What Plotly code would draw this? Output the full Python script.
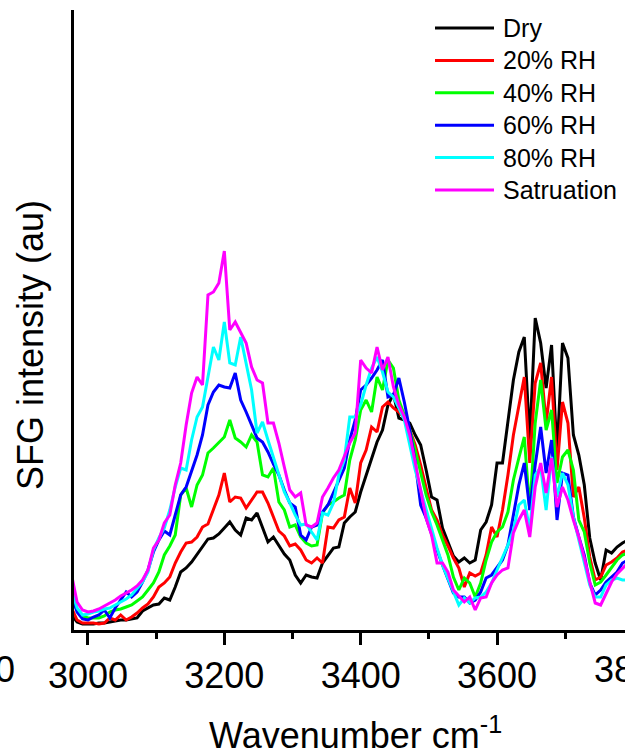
import plotly.graph_objects as go

# Wavenumber grid (cm-1), 8 cm-1 step
wavenumber = list(range(2976, 3793, 8))

series_names = ["Dry", "20% RH", "40% RH", "60% RH", "80% RH", "Satruation"]
series_colors = ["#000000", "#ff0000", "#00ff00", "#0000ff", "#00ffff", "#ff00ff"]

dry = [
    0.15, 0.08, 0.06, 0.06, 0.06, 0.07, 0.07, 0.08,
    0.09, 0.10, 0.10, 0.11, 0.12, 0.19, 0.22, 0.25,
    0.26, 0.32, 0.30, 0.43, 0.58, 0.62, 0.68, 0.76,
    0.83, 0.91, 0.92, 0.96, 1.02, 1.08, 1.00, 0.95,
    1.12, 1.10, 1.17, 1.03, 0.88, 0.93, 0.85, 0.76,
    0.70, 0.55, 0.47, 0.55, 0.53, 0.52, 0.67, 0.75,
    0.82, 0.83, 1.07, 1.13, 1.18, 1.38, 1.55, 1.72,
    1.88, 2.00, 2.25, 2.36, 2.12, 2.10, 2.07, 1.95,
    1.85, 1.60, 1.33, 1.30, 1.02, 0.88, 0.74, 0.68,
    0.72, 0.67, 0.70, 1.00, 1.08, 1.25, 1.67, 1.67,
    2.08, 2.50, 2.78, 2.93, 1.90, 3.12, 2.87, 2.42,
    2.85, 1.77, 2.87, 2.72, 1.95, 1.75, 1.45, 0.92,
    0.67, 0.50, 0.80, 0.77, 0.83, 0.87, 0.90,
]
rh20 = [
    0.22, 0.10, 0.07, 0.07, 0.07, 0.06, 0.07, 0.12,
    0.10, 0.15, 0.10, 0.13, 0.17, 0.22, 0.26, 0.33,
    0.43, 0.47, 0.53, 0.67, 0.78, 0.87, 0.88, 0.93,
    1.03, 1.06, 1.20, 1.35, 1.57, 1.28, 1.33, 1.32,
    1.22, 1.30, 1.38, 1.38, 1.27, 1.13, 0.99, 0.94,
    0.84, 0.86, 0.80, 0.70, 0.67, 0.72, 0.67, 1.03,
    1.02, 1.10, 1.13, 1.42, 1.27, 1.67, 1.80, 2.03,
    1.98, 2.23, 2.28, 2.22, 2.18, 2.12, 2.00, 1.85,
    1.65, 1.42, 1.20, 1.10, 0.95, 0.84, 0.72, 0.62,
    0.43, 0.57, 0.54, 0.57, 0.75, 1.03, 0.93, 1.20,
    1.55, 1.95, 2.25, 2.53, 1.67, 2.47, 2.67, 2.07,
    2.53, 1.60, 2.28, 2.07, 1.33, 1.43, 1.12, 0.73,
    0.50, 0.53, 0.65, 0.68, 0.72, 0.78, 0.80,
]
rh40 = [
    0.30, 0.20, 0.14, 0.12, 0.12, 0.12, 0.14, 0.18,
    0.20, 0.21, 0.23, 0.25, 0.29, 0.33, 0.40, 0.47,
    0.58, 0.75, 0.84, 0.95, 1.35, 1.42, 1.23, 1.45,
    1.55, 1.77, 1.82, 1.88, 1.93, 2.10, 1.92, 1.88,
    1.83, 1.95, 1.88, 1.55, 1.53, 1.62, 1.28, 1.20,
    1.03, 1.05, 0.93, 0.87, 0.84, 0.85, 1.17, 1.25,
    1.28, 1.32, 1.35, 1.70, 1.90, 2.20, 2.30, 2.18,
    2.53, 2.40, 2.70, 2.62, 2.30, 2.15, 2.00, 1.80,
    1.58, 1.35, 1.18, 1.05, 0.90, 0.75, 0.53, 0.40,
    0.52, 0.47, 0.33, 0.47, 0.70, 0.88, 0.98, 1.03,
    1.18, 1.50, 1.72, 1.93, 1.20, 2.07, 2.50, 2.00,
    2.20, 1.47, 1.73, 1.80, 1.60, 1.10, 0.98, 0.67,
    0.45, 0.48, 0.55, 0.62, 0.70, 0.75, 0.77,
]
rh60 = [
    0.35, 0.18, 0.11, 0.10, 0.13, 0.15, 0.20, 0.12,
    0.22, 0.30, 0.38, 0.33, 0.38, 0.48, 0.60, 0.78,
    0.90, 0.99, 0.95, 1.15, 1.35, 1.43, 1.60, 1.75,
    1.95, 2.25, 2.38, 2.45, 2.43, 2.42, 2.57, 2.30,
    2.18, 2.05, 1.92, 1.88, 1.78, 1.66, 1.55, 1.40,
    1.27, 1.23, 0.95, 0.90, 1.03, 1.05, 1.18, 1.25,
    1.37, 1.50, 1.62, 1.90, 2.10, 2.40, 2.45, 2.52,
    2.60, 2.70, 2.33, 2.35, 2.52, 2.28, 2.00, 1.68,
    1.25, 1.12, 0.95, 0.80, 0.65, 0.50, 0.37, 0.33,
    0.33, 0.27, 0.30, 0.38, 0.52, 0.55, 0.62, 0.70,
    0.85, 1.15, 1.45, 1.67, 1.20, 1.65, 2.03, 1.57,
    1.90, 1.10, 1.57, 1.55, 1.13, 0.93, 0.75, 0.47,
    0.35, 0.40, 0.48, 0.53, 0.58, 0.67, 0.70,
]
rh80 = [
    0.40, 0.22, 0.15, 0.16, 0.18, 0.19, 0.21, 0.22,
    0.25, 0.28, 0.31, 0.35, 0.42, 0.48, 0.58, 0.80,
    0.92, 1.02, 1.20, 1.43, 1.62, 1.60, 1.90, 2.13,
    2.23, 2.53, 2.83, 2.70, 3.08, 2.67, 2.65, 2.93,
    2.65, 2.40, 1.97, 2.08, 1.90, 1.73, 1.55, 1.38,
    1.27, 1.15, 1.05, 1.06, 0.98, 0.90, 1.17, 1.15,
    1.27, 1.55, 1.70, 2.13, 2.13, 2.25, 2.45, 2.62,
    2.73, 2.58, 2.38, 2.33, 2.22, 2.10, 1.85, 1.60,
    1.40, 1.20, 1.00, 0.82, 0.65, 0.52, 0.38, 0.25,
    0.32, 0.27, 0.32, 0.33, 0.38, 0.47, 0.60, 0.72,
    0.85, 1.00, 1.25, 1.30, 1.00, 1.55, 1.63, 1.20,
    1.73, 1.33, 1.57, 1.45, 1.13, 0.90, 0.68, 0.45,
    0.33, 0.33, 0.45, 0.50, 0.52, 0.50, 0.50,
]
saturation = [
    0.55, 0.28, 0.20, 0.18, 0.19, 0.21, 0.24, 0.27,
    0.30, 0.34, 0.37, 0.40, 0.44, 0.50, 0.60, 0.82,
    0.90, 1.07, 1.15, 1.45, 1.67, 2.05, 2.37, 2.53,
    2.45, 3.35, 3.38, 3.47, 3.79, 3.00, 3.08, 2.97,
    2.87, 2.63, 2.50, 2.47, 2.07, 2.07, 1.87, 1.63,
    1.40, 1.33, 1.37, 1.05, 1.03, 1.07, 1.33, 1.42,
    1.52, 1.60, 1.73, 1.87, 1.97, 2.70, 2.62, 2.57,
    2.83, 2.60, 2.73, 2.43, 2.25, 2.13, 1.95, 1.67,
    1.40, 1.12, 0.95, 0.67, 0.67, 0.58, 0.40, 0.34,
    0.28, 0.33, 0.20, 0.32, 0.33, 0.47, 0.55, 0.60,
    0.62, 0.97, 1.10, 1.20, 0.93, 1.43, 1.67, 1.37,
    1.72, 1.23, 1.43, 1.30, 1.10, 0.93, 0.72, 0.48,
    0.27, 0.25, 0.36, 0.48, 0.56, 0.62, 0.67,
]
series_values = [dry, rh20, rh40, rh60, rh80, saturation]

labeled_ticks = [3000, 3200, 3400, 3600]
minor_ticks = [3100, 3300, 3500, 3700]

FONT = "Liberation Sans, Arial, sans-serif"
W, H = 625, 754
L, R, T, B = 74, 0, 10, 124
PW, PH = W - L - R, H - T - B


def px_x(px):
    return (px - L) / PW


def px_y(py):
    return (H - B - py) / PH


fig = go.Figure()
for name, color, vals in zip(series_names, series_colors, series_values):
    fig.add_trace(go.Scatter(
        x=wavenumber, y=vals, mode="lines", name=name,
        line=dict(color=color, width=3), showlegend=False,
    ))

# Legend drawn as line samples plus labels
shapes = []
annotations = []
for i, (name, color) in enumerate(zip(series_names, series_colors)):
    yy = px_y(28 + 32.4 * i)
    shapes.append(dict(type="line", xref="paper", yref="paper",
                       x0=px_x(435), x1=px_x(494), y0=yy, y1=yy,
                       line=dict(color=color, width=3)))
    annotations.append(dict(text=name, xref="paper", yref="paper",
                            x=px_x(501), y=yy, xanchor="left", yanchor="middle",
                            showarrow=False, font=dict(size=25, color="black", family=FONT)))

# Axis titles
annotations.append(dict(text="SFG intensity (au)", xref="paper", yref="paper",
                        x=px_x(30), y=px_y(345), textangle=-90,
                        xanchor="center", yanchor="middle", showarrow=False,
                        font=dict(size=36, color="black", family=FONT)))
annotations.append(dict(text="Wavenumber cm<sup>-1</sup>", xref="paper", yref="paper",
                        x=px_x(355), y=px_y(733), xanchor="center", yanchor="middle",
                        showarrow=False, font=dict(size=36, color="black", family=FONT)))
# Tick labels cut by the figure edges
annotations.append(dict(text="0", xref="paper", yref="paper",
                        x=px_x(17), y=px_y(669), xanchor="right", yanchor="middle",
                        showarrow=False, font=dict(size=36, color="black", family=FONT)))
annotations.append(dict(text="3800", xref="paper", yref="paper",
                        x=px_x(634), y=px_y(669), xanchor="center", yanchor="middle",
                        showarrow=False, font=dict(size=36, color="black", family=FONT)))

fig.update_layout(
    width=W, height=H,
    margin=dict(l=L, r=R, t=T, b=B, pad=0),
    paper_bgcolor="white", plot_bgcolor="white",
    font=dict(family=FONT, color="black"),
    shapes=shapes, annotations=annotations,
    xaxis=dict(
        range=[2979.5, 3787.7], showgrid=False, zeroline=False,
        showline=True, linecolor="black", linewidth=2.6,
        tickvals=labeled_ticks, ticks="outside", ticklen=12, tickwidth=2.6,
        tickcolor="black", tickfont=dict(size=36, color="black", family=FONT),
        minor=dict(tickvals=minor_ticks, ticks="outside", ticklen=6,
                   tickwidth=2.6, tickcolor="black"),
    ),
    yaxis=dict(
        range=[0, 6.2], showgrid=False, zeroline=False,
        showline=True, linecolor="black", linewidth=2.6,
        showticklabels=False, ticks="",
    ),
)

fig.write_html("out.html")
